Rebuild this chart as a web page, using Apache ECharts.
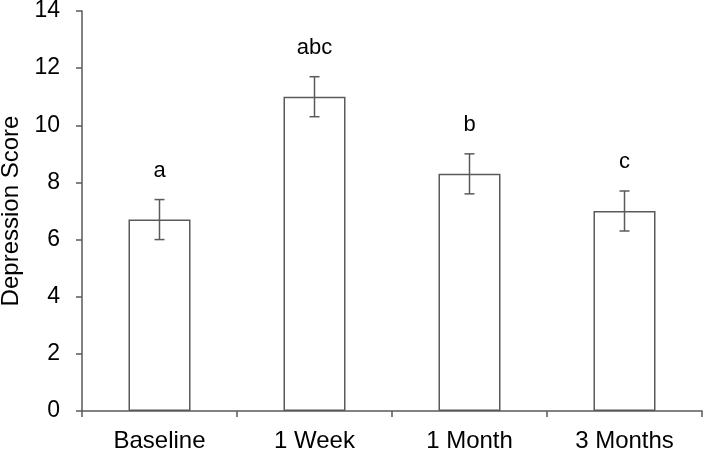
<!DOCTYPE html>
<html>
<head>
<meta charset="utf-8">
<script src="https://cdn.jsdelivr.net/npm/echarts@6/dist/echarts.min.js"></script>
<style>html,body{margin:0;padding:0;background:#fff}#c{width:703px;height:452px}</style>
</head>
<body>
<div id="c"></div>
<script>
var categories = ['Baseline', '1 Week', '1 Month', '3 Months'];
var means = [6.7, 11.0, 8.3, 7.0];
var errors = [0.7, 0.7, 0.7, 0.7];
var letters = ['a', 'abc', 'b', 'c'];
var yTicks = [0, 2, 4, 6, 8, 10, 12, 14];

var errData = categories.map(function (c, i) { return [i, means[i] - errors[i], means[i] + errors[i], letters[i]]; });
var chart = echarts.init(document.getElementById('c'));
var axisCol = '#5a5a5a';
var fam = '"Liberation Sans", Arial, sans-serif';
chart.setOption({
  animation: false,
  grid: { left: 82, right: 1, top: 11, bottom: 41, containLabel: false, outerBoundsMode: 'none' },
  xAxis: {
    type: 'category', data: categories,
    axisLine: { lineStyle: { color: axisCol, width: 1.5 } },
    axisTick: { show: true, length: 6, lineStyle: { color: axisCol, width: 1.5 } },
    axisLabel: { color: '#000', fontSize: 24, fontFamily: fam, margin: 18 }
  },
  yAxis: {
    type: 'value', min: yTicks[0], max: yTicks[yTicks.length - 1], interval: 2,
    name: 'Depression Score', nameLocation: 'middle', nameGap: 54,
    nameTextStyle: { color: '#000', fontSize: 24, fontFamily: fam },
    axisLine: { show: true, lineStyle: { color: axisCol, width: 1.5 } },
    axisTick: { show: true, length: 6, lineStyle: { color: axisCol, width: 1.5 } },
    axisLabel: { color: '#000', fontSize: 23, fontFamily: fam, margin: 22 },
    splitLine: { show: false }
  },
  series: [
    {
      type: 'bar', data: means, barWidth: '40%',
      itemStyle: { color: '#fff', borderColor: axisCol, borderWidth: 1.5 }
    },
    {
      type: 'custom', data: errData, z: 5,
      renderItem: function (params, api) {
        var x = api.value(0);
        var lo = api.coord([x, api.value(1)]);
        var hi = api.coord([x, api.value(2)]);
        var cw = 5;
        var st = { stroke: axisCol, lineWidth: 1.5 };
        return {
          type: 'group',
          children: [
            { type: 'line', shape: { x1: hi[0], y1: hi[1], x2: lo[0], y2: lo[1] }, style: st },
            { type: 'line', shape: { x1: hi[0] - cw, y1: hi[1], x2: hi[0] + cw, y2: hi[1] }, style: st },
            { type: 'line', shape: { x1: lo[0] - cw, y1: lo[1], x2: lo[0] + cw, y2: lo[1] }, style: st },
            { type: 'text', x: hi[0], y: hi[1] - 29, style: { text: api.value(3), fill: '#000', font: '22px "Liberation Sans", Arial, sans-serif', textAlign: 'center', textVerticalAlign: 'middle' } }
          ]
        };
      }
    }
  ]
});
</script>
</body>
</html>
